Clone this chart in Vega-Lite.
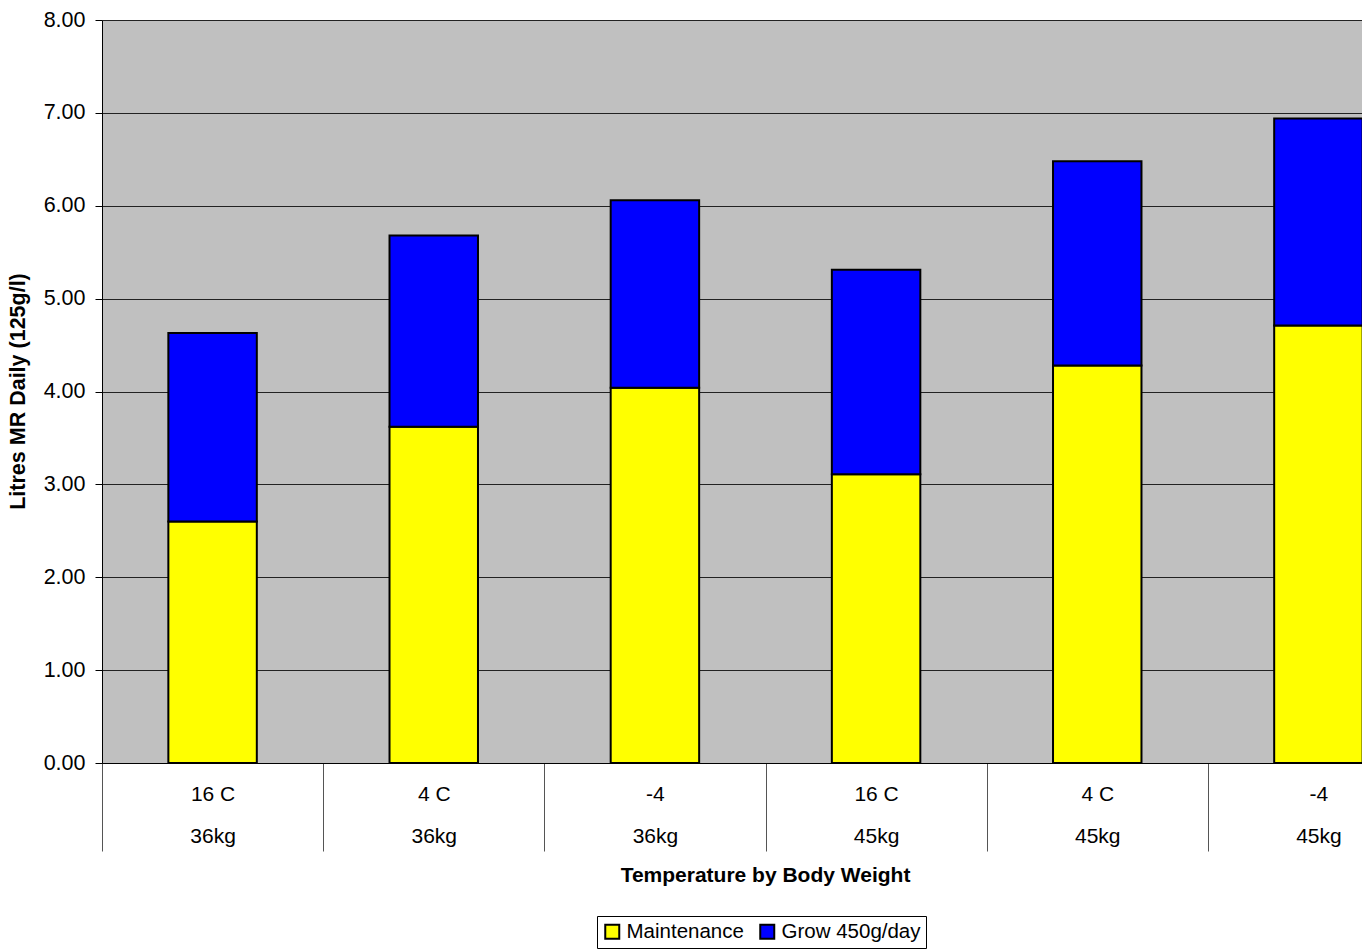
{
  "$schema": "https://vega.github.io/schema/vega-lite/v6.json",
  "autosize": {"type": "none"},
  "padding": {"left": 102, "top": 20, "right": 0, "bottom": 187},
  "width": 1260,
  "height": 743,
  "background": "white",
  "config": {
    "view": {"fill": "#C0C0C0", "stroke": null},
    "font": "Liberation Sans"
  },
  "data": {
    "values": [
      {"cat": "16 C|36kg", "series": "Maintenance", "k": 1, "value": 2.60},
      {"cat": "16 C|36kg", "series": "Grow 450g/day", "k": 2, "value": 2.03},
      {"cat": "4 C|36kg", "series": "Maintenance", "k": 1, "value": 3.62},
      {"cat": "4 C|36kg", "series": "Grow 450g/day", "k": 2, "value": 2.06},
      {"cat": "-4|36kg", "series": "Maintenance", "k": 1, "value": 4.04},
      {"cat": "-4|36kg", "series": "Grow 450g/day", "k": 2, "value": 2.02},
      {"cat": "16 C|45kg", "series": "Maintenance", "k": 1, "value": 3.11},
      {"cat": "16 C|45kg", "series": "Grow 450g/day", "k": 2, "value": 2.20},
      {"cat": "4 C|45kg", "series": "Maintenance", "k": 1, "value": 4.28},
      {"cat": "4 C|45kg", "series": "Grow 450g/day", "k": 2, "value": 2.20},
      {"cat": "-4|45kg", "series": "Maintenance", "k": 1, "value": 4.71},
      {"cat": "-4|45kg", "series": "Grow 450g/day", "k": 2, "value": 2.23}
    ]
  },
  "mark": {"type": "bar", "stroke": "black", "strokeWidth": 2, "clip": true, "width": {"band": 0.4}},
  "encoding": {
    "x": {
      "field": "cat",
      "type": "nominal",
      "sort": null,
      "scale": {"range": [0, 1327], "paddingInner": 0, "paddingOuter": 0},
      "axis": {
        "title": "Temperature by Body Weight",
        "titleFontSize": 21,
        "titleFontWeight": "bold",
        "titleColor": "black",
        "titleX": 663,
        "titleY": 101,
        "titleAlign": "center",
        "titleBaseline": "top",
        "labelExpr": "split(datum.label, '|')",
        "labelAngle": 0,
        "labelFontSize": 21,
        "labelColor": "black",
        "labelLineHeight": 42,
        "labelBaseline": "top",
        "labelPadding": -68,
        "tickBand": "extent",
        "tickSize": 88,
        "tickColor": "#555",
        "domainColor": "black",
        "domainWidth": 1,
        "grid": false
      }
    },
    "y": {
      "field": "value",
      "type": "quantitative",
      "stack": "zero",
      "scale": {"domain": [0, 8], "nice": false},
      "axis": {
        "title": "Litres MR Daily (125g/l)",
        "titleFontSize": 21.5,
        "titleFontWeight": "bold",
        "titleColor": "black",
        "titleAngle": -90,
        "titleX": -84,
        "titleY": 371,
        "titleAlign": "center",
        "titleBaseline": "middle",
        "values": [0, 1, 2, 3, 4, 5, 6, 7, 8],
        "format": ".2f",
        "labelFontSize": 21.5,
        "labelColor": "black",
        "labelPadding": 10,
        "tickSize": 7,
        "tickColor": "black",
        "domainColor": "black",
        "grid": true,
        "gridColor": "#222",
        "gridWidth": 1
      }
    },
    "color": {
      "field": "series",
      "type": "nominal",
      "scale": {"domain": ["Maintenance", "Grow 450g/day"], "range": ["#FFFF00", "#0000FF"]},
      "legend": {
        "title": null,
        "orient": "none",
        "legendX": 495,
        "legendY": 896,
        "direction": "horizontal",
        "symbolType": "square",
        "symbolSize": 196,
        "symbolStrokeColor": "black",
        "symbolStrokeWidth": 2,
        "labelFontSize": 20.5,
        "labelColor": "black",
        "labelOffset": 4,
        "columnPadding": 12,
        "strokeColor": "black",
        "fillColor": "white",
        "padding": 5
      }
    },
    "order": {"field": "k", "type": "quantitative"}
  }
}
